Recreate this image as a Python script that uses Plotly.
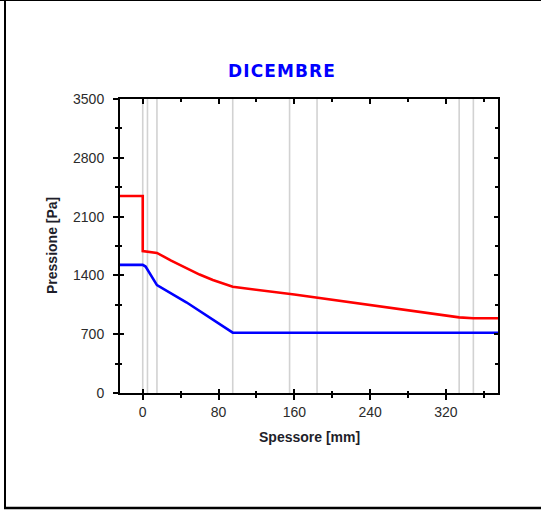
import plotly.graph_objects as go

# Wall cross-section: layer boundaries (mm)
layer_bounds = [0, 5, 15, 95, 155, 184, 334, 349]

# Pressure profiles across the wall thickness
spessore_sat = [-24, 0, 0, 5, 15, 30, 46, 60, 74, 85, 95, 160, 240, 334, 349, 375]
pressione_sat = [2345, 2345, 1690, 1680, 1668, 1575, 1488, 1410, 1345, 1300, 1265,
                 1172, 1046, 900, 890, 890]

spessore_vap = [-24, 0, 3, 5, 10, 15, 46, 74, 95, 375]
pressione_vap = [1525, 1525, 1505, 1470, 1370, 1285, 1080, 868, 718, 718]

x_ticks = [0, 80, 160, 240, 320]
y_ticks = [0, 700, 1400, 2100, 2800, 3500]
x_range = [-24, 375]
y_range = [0, 3500]

W, H = 541, 511
L, R, T, B = 120, 43, 99, 118
pw, ph = W - L - R, H - T - B


def px_x(px):
    return (px - L) / pw


def px_y(py):
    return (H - B - py) / ph


fig = go.Figure()

fig.add_trace(go.Scatter(x=spessore_sat, y=pressione_sat, mode="lines",
                         line=dict(color="#ff0000", width=2.6),
                         showlegend=False, hoverinfo="skip"))
fig.add_trace(go.Scatter(x=spessore_vap, y=pressione_vap, mode="lines",
                         line=dict(color="#0000ff", width=2.6),
                         showlegend=False, hoverinfo="skip"))
# placeholders so the overlay axes are drawn
fig.add_trace(go.Scatter(x=[None], y=[None], xaxis="x2", yaxis="y2",
                         showlegend=False, hoverinfo="skip"))
fig.add_trace(go.Scatter(x=[None], y=[None], xaxis="x3", yaxis="y3",
                         showlegend=False, hoverinfo="skip"))

# layer boundaries as vertical gray lines
for xb in layer_bounds:
    fig.add_shape(type="line", xref="x", yref="paper", x0=xb, x1=xb, y0=0, y1=1,
                  line=dict(color="#d2d2d2", width=1.6), layer="below")

tick_font = dict(family="Liberation Sans, Arial, sans-serif", size=14, color="#2b2b2b")

common = dict(showgrid=False, zeroline=False, linecolor="black", tickcolor="black",
              tickwidth=1.5)

fig.update_layout(
    width=W, height=H,
    margin=dict(l=L, r=R, t=T, b=B),
    paper_bgcolor="white", plot_bgcolor="white",
    title=dict(text='<span style="letter-spacing:1.1px">DICEMBRE</span>',
               font=dict(family="DejaVu Sans, sans-serif", size=17, color="#0000ff",
                         weight="bold"),
               xref="paper", x=px_x(282), xanchor="center",
               yref="container", y=1 - 71 / H, yanchor="middle"),
    xaxis=dict(range=x_range, tickvals=x_ticks, ticks="outside", ticklen=5,
               showline=True, linewidth=2, tickfont=tick_font,
               ticklabelstandoff=0,
               minor=dict(dtick=40, tick0=0, ticks="outside", ticklen=3,
                          tickcolor="black", tickwidth=1.5),
               **common),
    yaxis=dict(range=y_range, tickvals=y_ticks, ticks="outside", ticklen=5,
               showline=True, linewidth=2, tickfont=tick_font,
               ticklabelstandoff=6,
               minor=dict(dtick=350, tick0=0, ticks="outside", ticklen=3,
                          tickcolor="black", tickwidth=1.5),
               **common),
    xaxis2=dict(range=x_range, overlaying="x", side="top", anchor="y2",
                tickvals=x_ticks, ticks="inside", ticklen=5, showticklabels=False,
                showline=True, linewidth=2,
                minor=dict(dtick=40, tick0=0, ticks="inside", ticklen=3,
                           tickcolor="black", tickwidth=1.5),
                **common),
    yaxis2=dict(range=y_range, overlaying="y", side="right", anchor="x2",
                tickvals=y_ticks, ticks="inside", ticklen=4, showticklabels=False,
                showline=True, linewidth=2,
                minor=dict(dtick=350, tick0=0, ticks="inside", ticklen=3,
                           tickcolor="black", tickwidth=1.5),
                **common),
    # inner halves of the crossing ticks on the bottom/left axes
    xaxis3=dict(range=x_range, overlaying="x", side="bottom", anchor="y3",
                tickvals=x_ticks, ticks="inside", ticklen=4, showticklabels=False,
                showline=False,
                minor=dict(dtick=40, tick0=0, ticks="inside", ticklen=2,
                           tickcolor="black", tickwidth=1.5),
                **common),
    yaxis3=dict(range=y_range, overlaying="y", side="left", anchor="x3",
                tickvals=y_ticks, ticks="inside", ticklen=4, showticklabels=False,
                showline=False,
                minor=dict(dtick=350, tick0=0, ticks="inside", ticklen=2,
                           tickcolor="black", tickwidth=1.5),
                **common),
)

label_font = dict(family="Liberation Sans, Arial, sans-serif", size=14, color="#1e1e2a",
                  weight="bold")
fig.add_annotation(text="Spessore [mm]", xref="paper", yref="paper",
                   x=0.5, y=px_y(437), xanchor="center", yanchor="middle",
                   showarrow=False, font=label_font)
fig.add_annotation(text="Pressione [Pa]", xref="paper", yref="paper",
                   x=px_x(52), y=0.5, xanchor="center", yanchor="middle",
                   textangle=-90, showarrow=False, font=label_font)

# outer frame lines
frame = dict(color="black")
fig.add_shape(type="line", xref="paper", yref="paper",
              x0=px_x(0), x1=px_x(W), y0=px_y(0.5), y1=px_y(0.5),
              line=dict(width=1, **frame))
fig.add_shape(type="line", xref="paper", yref="paper",
              x0=px_x(5), x1=px_x(5), y0=px_y(0), y1=px_y(509),
              line=dict(width=2, **frame))
fig.add_shape(type="line", xref="paper", yref="paper",
              x0=px_x(4), x1=px_x(W), y0=px_y(508), y1=px_y(508),
              line=dict(width=2.5, **frame))

fig.write_html("out.html")
